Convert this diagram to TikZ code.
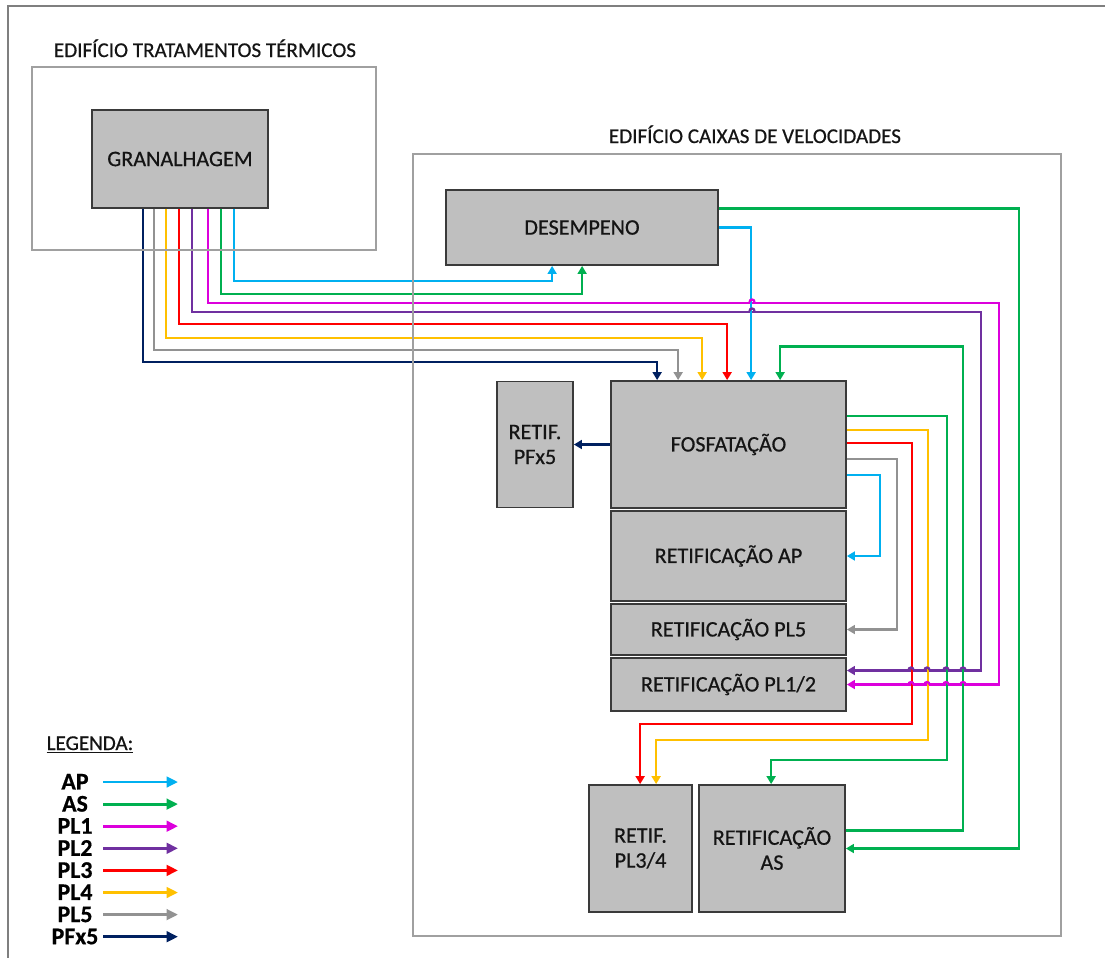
\documentclass[tikz,border=0pt]{standalone}
\usepackage{fontspec}
\setmainfont{Carlito}[FakeBold=0.6]
\usetikzlibrary{arrows.meta, positioning, calc}
\definecolor{flowAP}{HTML}{00B0F0}
\definecolor{flowAS}{HTML}{00B050}
\definecolor{flowPLone}{HTML}{DC00DC}
\definecolor{flowPLtwo}{HTML}{7030A0}
\definecolor{flowPLthree}{HTML}{FF0000}
\definecolor{flowPLfour}{HTML}{FFC000}
\definecolor{flowPLfive}{HTML}{929292}
\definecolor{flowPFx}{HTML}{002060}
\definecolor{boxFill}{HTML}{BFBFBF}
\definecolor{boxEdge}{HTML}{3A3A3A}
\definecolor{frameGray}{HTML}{A0A0A0}
\definecolor{outerGray}{HTML}{7F7F7F}
\definecolor{textDark}{HTML}{141414}
\newlength\unitpx
\setlength\unitpx{0.02cm}

\begin{document}
\begin{tikzpicture}[
  x=0.02cm, y=-0.02cm,
  font=\fontsize{12}{14.2}\selectfont,
  proc/.style={draw=boxEdge, fill=boxFill, line width=1pt, align=center,
               inner sep=1pt, text=textDark, font=\fontsize{12.6}{14.2}\selectfont},
  bldg/.style={draw=frameGray, line width=1.1pt, inner sep=0pt},
  ttl/.style={inner sep=0pt, anchor=base, text=textDark},
  leglab/.style={inner sep=0pt, text height=8.5pt, text depth=0pt,
                 font=\fontsize{13.6}{13}\selectfont\bfseries, text=black},
  flow/.style={line width=1.4pt, -{Triangle[length=4.5pt,width=5pt]}},
  legflow/.style={line width=1.6pt, -{Triangle[length=6.5pt,width=6pt]}},
  hop/.style={line width=1.3pt},
  ap/.style={draw=flowAP},
  asc/.style={draw=flowAS},
  plone/.style={draw=flowPLone},
  pltwo/.style={draw=flowPLtwo},
  plthree/.style={draw=flowPLthree},
  plfour/.style={draw=flowPLfour},
  plfive/.style={draw=flowPLfive},
  pfx/.style={draw=flowPFx}
]
\useasboundingbox (0,0) rectangle (1105,958);

% outer frame (cut at right and bottom)
\draw[outerGray, line width=1.1pt] (1105,6) -- (8,6) -- (8,958);

% process boxes
\node[proc, minimum width=176\unitpx, minimum height=98\unitpx] (gran) at (180,159) {GRANALHAGEM};
\node[proc, minimum width=272\unitpx, minimum height=75\unitpx] (desemp) at (582,227.5) {DESEMPENO};
\node[proc, minimum width=235\unitpx, minimum height=127\unitpx] (fosf) at (728.5,444.5) {FOSFATAÇÃO};
\node[proc, minimum width=76\unitpx, minimum height=126\unitpx] (pfx5) at (535,444.5) {RETIF.\\PFx5};
\node[proc, minimum width=235\unitpx, minimum height=90\unitpx] (retAP) at (728.5,556) {RETIFICAÇÃO AP};
\node[proc, minimum width=235\unitpx, minimum height=51\unitpx] (retPL5) at (728.5,629.5) {RETIFICAÇÃO PL5};
\node[proc, minimum width=235\unitpx, minimum height=53\unitpx] (retPL12) at (728.5,684.5) {RETIFICAÇÃO PL1/2};
\node[proc, minimum width=103\unitpx, minimum height=127\unitpx] (retPL34) at (640.5,848.5) {RETIF.\\PL3/4};
\node[proc, minimum width=146\unitpx, minimum height=127\unitpx] (retAS) at (772,848.5) {RETIFICAÇÃO\\AS};

% from granalhagem
\draw[flow, ap] ([xshift=143\unitpx]gran.south west) -- ++(0,72) -| ([xshift=107\unitpx]desemp.south west);
\draw[flow, asc] ([xshift=130\unitpx]gran.south west) -- ++(0,85) -| ([xshift=137\unitpx]desemp.south west);
\draw[flow, plone] ([xshift=117\unitpx]gran.south west) -- ++(0,94) -- ++(791,0) |- (retPL12.east);
\draw[flow, pltwo] ([xshift=101\unitpx]gran.south west) -- ++(0,103) -- ++(789,0) |- ([yshift=14\unitpx]retPL12.east);
\draw[flow, plthree] ([xshift=88\unitpx]gran.south west) -- ++(0,115) -| ([xshift=117\unitpx]fosf.north west);
\draw[flow, plfour] ([xshift=75\unitpx]gran.south west) -- ++(0,129) -| ([xshift=92\unitpx]fosf.north west);
\draw[flow, plfive] ([xshift=63\unitpx]gran.south west) -- ++(0,141) -| ([xshift=68\unitpx]fosf.north west);
\draw[flow, pfx] ([xshift=52\unitpx]gran.south west) -- ++(0,153) -| ([xshift=47\unitpx]fosf.north west);

% from desempeno
\draw[flow, asc] ([yshift=19\unitpx]desemp.east) -- ++(300,0) |- (retAS.east);
\draw[flow, ap] (desemp.east) -| ([xshift=141\unitpx]fosf.north west);

% from retificacao AS back to fosfatacao
\draw[flow, asc] ([yshift=18\unitpx]retAS.east) -- ++(117,0) -- ++(0,-484) -| ([xshift=170\unitpx]fosf.north west);

% from fosfatacao
\draw[flow, asc] ([yshift=-36\unitpx]fosf.north east) -- ++(100,0) -- ++(0,344) -| ([xshift=73\unitpx]retAS.north west);
\draw[flow, plfour] ([yshift=-50\unitpx]fosf.north east) -- ++(81,0) -- ++(0,310) -| ([xshift=68\unitpx]retPL34.north west);
\draw[flow, plthree] ([yshift=-63\unitpx]fosf.north east) -- ++(65,0) -- ++(0,281) -| ([xshift=52\unitpx]retPL34.north west);
\draw[flow, plfive] ([yshift=-79\unitpx]fosf.north east) -- ++(50,0) |- (retPL5.east);
\draw[flow, ap] ([yshift=-95\unitpx]fosf.north east) -- ++(33,0) |- (retAP.east);
\draw[flow, pfx] (fosf.west) -- (pfx5.east);

% line hops
\draw[hop, plone] (749.5,302) arc[start angle=180, end angle=0, radius=2.5\unitpx];
\draw[hop, pltwo] (749.5,311) arc[start angle=180, end angle=0, radius=2.5\unitpx];
\foreach \hx in {911,927,946,963} {
  \draw[hop, pltwo] (\hx-2.5,670) arc[start angle=180, end angle=0, radius=2.5\unitpx];
  \draw[hop, plone] (\hx-2.5,684.5) arc[start angle=180, end angle=0, radius=2.5\unitpx];
}

% buildings
\node[bldg, minimum width=344\unitpx, minimum height=183\unitpx] (bTT) at (204,158.5) {};
\node[ttl] (tTT) at ([xshift=1\unitpx, yshift=9\unitpx]bTT.north) {EDIFÍCIO TRATAMENTOS TÉRMICOS};
\node[bldg, minimum width=648\unitpx, minimum height=782\unitpx] (bCV) at (737,545) {};
\node[ttl] (tCV) at ([xshift=18\unitpx, yshift=10\unitpx]bCV.north) {EDIFÍCIO CAIXAS DE VELOCIDADES};

% legend
\node[inner sep=0pt, text=textDark] (legTitle) at (90,745) {\underline{LEGENDA:}};
\foreach \lab/\col [count=\i from 0] in {AP/flowAP, AS/flowAS, PL1/flowPLone, PL2/flowPLtwo,
    PL3/flowPLthree, PL4/flowPLfour, PL5/flowPLfive, PFx5/flowPFx} {
  \node[leglab] (lab\i) at (75, 782+22.1*\i) {\lab};
  \coordinate (legS\i) at (103, 782+22.1*\i);
  \coordinate (legE\i) at (178, 782+22.1*\i);
  \draw[legflow, draw=\col] (legS\i) -- (legE\i);
}
\end{tikzpicture}
\end{document}
